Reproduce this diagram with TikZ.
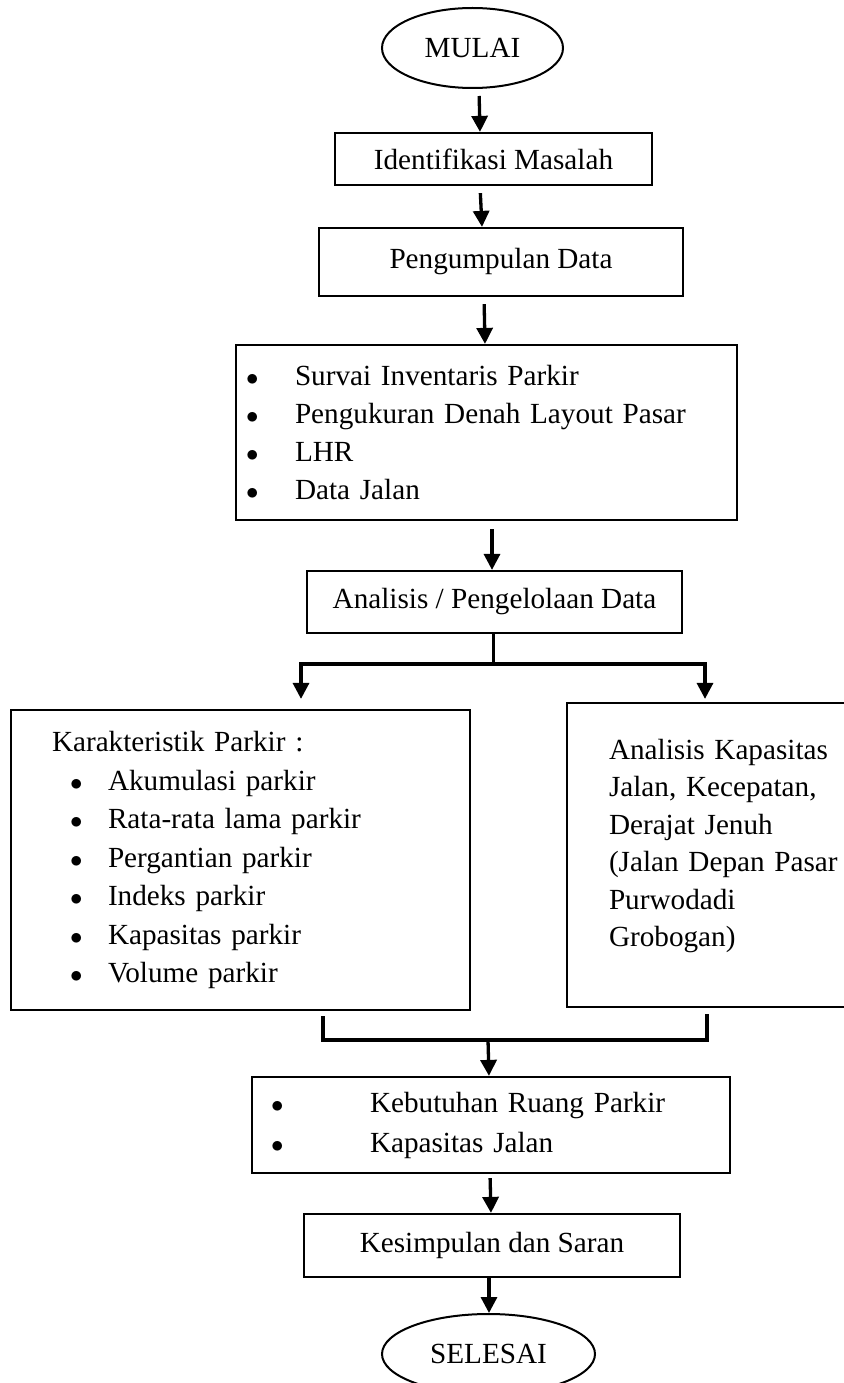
\documentclass[tikz,border=0pt]{standalone}
\usepackage{fontspec}
\setmainfont{Liberation Serif}
\usetikzlibrary{arrows.meta,shapes.geometric}
\tikzset{
	box/.style={draw, line width=2.2pt, rectangle, inner sep=0pt, font=\fontsize{29.2}{38}\selectfont},
	oval/.style={draw, line width=2pt, ellipse, inner sep=0pt, font=\fontsize{29.2}{38}\selectfont},
	link/.style={line width=3.3pt},
	arr/.style={line width=3.3pt, -{Triangle[length=16pt,width=16pt]}}
}
\newcommand{\itm}[2]{\makebox[#1][l]{\hspace*{-2pt}$\bullet$}#2}

\begin{document}
\begin{tikzpicture}[x=1pt,y=-1pt]
			%%%%% START %%%%%
			\useasboundingbox (0,0) rectangle (843,1383);
			
			\node[oval, minimum width=181pt, minimum height=80pt] (mulai) at (472.5,48) {MULAI};
			\node[box, minimum width=317pt, minimum height=52pt] (ident) at (493.5,159) {Identifikasi Masalah};
			\node[box, minimum width=364pt, minimum height=68pt] (kumpul) at (501,262) {Pengumpulan Data};
			\node[box, minimum width=501pt, minimum height=175pt, text width=477pt, inner xsep=12pt, align=left] (survei) at (486.5,432.5)
				{\itm{47pt}{Survai Inventaris Parkir}\\ \itm{47pt}{Pengukuran Denah Layout Pasar}\\ \itm{47pt}{LHR}\\ \itm{47pt}{Data Jalan}};
			\node[box, minimum width=375pt, minimum height=62pt] (olah) at (494.5,602) {Analisis / Pengelolaan Data};
			
			\node[box, minimum width=459pt, minimum height=300pt, text width=377pt, inner xsep=41pt, align=left, font=\fontsize{29.2}{38.5}\selectfont] (karak) at (240.5,860)
				{Karakteristik Parkir :\\ \hspace*{20pt}\itm{36pt}{Akumulasi parkir}\\ \hspace*{20pt}\itm{36pt}{Rata-rata lama parkir}\\ \hspace*{20pt}\itm{36pt}{Pergantian parkir}\\
				\hspace*{20pt}\itm{36pt}{Indeks parkir}\\ \hspace*{20pt}\itm{36pt}{Kapasitas parkir}\\ \hspace*{20pt}\itm{36pt}{Volume parkir}};
			\node[box, minimum width=324pt, minimum height=304pt, text width=240pt, inner xsep=42pt, align=left, font=\fontsize{29.2}{37.5}\selectfont] (jalan) at (729,855)
				{Analisis Kapasitas\\ Jalan, Kecepatan,\\ Derajat Jenuh\\ (Jalan Depan Pasar\\ Purwodadi\\ Grobogan)\rule[-24pt]{0pt}{1pt}};
			
			\node[box, minimum width=478pt, minimum height=96pt, text width=436pt, inner xsep=21pt, align=left, font=\fontsize{29.2}{40}\selectfont] (kebut) at (491,1125)
				{\itm{97pt}{Kebutuhan Ruang Parkir}\\ \itm{97pt}{Kapasitas Jalan}};
			\node[box, minimum width=376pt, minimum height=63pt] (kesimp) at (492,1245.5) {Kesimpulan dan Saran};
			\node[oval, minimum width=213pt, minimum height=80pt] (selesai) at (488.5,1354) {SELESAI};
			
			% arrows
			\draw[arr, shorten <=7pt] ([xshift=6.5pt]mulai.south) -- ([xshift=-13.5pt]ident.north);
			\draw[arr, shorten <=7pt] ([xshift=-13.5pt]ident.south) -- ([xshift=-19pt]kumpul.north);
			\draw[arr, shorten <=7pt] ([xshift=-17pt]kumpul.south) -- ([xshift=-1.5pt]survei.north);
			\draw[arr, shorten <=8pt] ([xshift=5.5pt]survei.south) -- ([xshift=-2.5pt]olah.north);
			
			\draw[arr] ([xshift=-1pt]olah.south) -- ++(0,30) -| ([xshift=60.5pt,yshift=10pt]karak.north);
			\draw[arr] ([xshift=-1pt]olah.south) -- ++(0,30) -| ([xshift=-24pt,yshift=3pt]jalan.north);
			
			\coordinate (gabung) at (488,1040);
			\draw[link] ([xshift=82.5pt,yshift=-5pt]karak.south) |- (gabung) -| ([xshift=-22pt,yshift=-6pt]jalan.south);
			\draw[arr] (gabung) -- ([xshift=-2pt]kebut.north);
			
			\draw[arr, shorten <=4pt] ([xshift=-1pt]kebut.south) -- ([xshift=-1pt]kesimp.north);
			\draw[arr] ([xshift=-3pt]kesimp.south) -- ([xshift=0.5pt]selesai.north);
			%%%%% END %%%%%
\end{tikzpicture}
\end{document}
